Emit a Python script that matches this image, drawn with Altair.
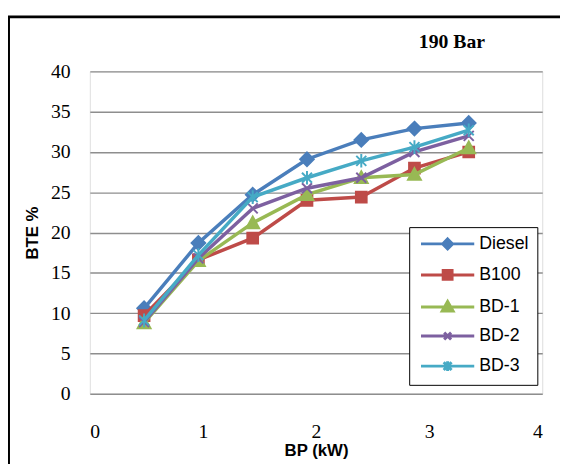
import altair as alt
import pandas as pd

# ---- data ----
bp = [0.48, 0.96, 1.44, 1.92, 2.40, 2.87, 3.35]
diesel = [10.6, 18.7, 24.7, 29.1, 31.5, 32.9, 33.6]
b100 = [9.7, 16.6, 19.3, 24.0, 24.4, 28.0, 30.0]
bd1 = [8.8, 16.5, 21.2, 24.7, 26.8, 27.2, 30.5]
bd2 = [8.9, 16.8, 23.0, 25.5, 26.8, 30.0, 32.0]
bd3 = [9.1, 17.2, 24.4, 26.8, 28.9, 30.6, 32.7]
series = ["Diesel", "B100", "BD-1", "BD-2", "BD-3"]
colors = ["#4A7EBB", "#BE4B48", "#98B954", "#7D60A0", "#46AAC5"]
x_ticks = [0, 1, 2, 3, 4]
y_ticks = [0, 5, 10, 15, 20, 25, 30, 35, 40]

values = [diesel, b100, bd1, bd2, bd3]
rows = []
for name, vals in zip(series, values):
    for x, y in zip(bp, vals):
        rows.append({"series": name, "bp": x, "bte": y})
df = pd.DataFrame(rows)

# marker shapes (unit box -1..1)
marker_paths = [
    "M0,-0.95L0.95,0L0,0.95L-0.95,0Z",
    "M-0.75,-0.75L0.75,-0.75L0.75,0.75L-0.75,0.75Z",
    "M0,-0.9L0.9,0.75L-0.9,0.75Z",
    "M-0.7,-0.7L0.7,0.7M-0.7,0.7L0.7,-0.7",
    "M-0.7,-0.7L0.7,0.7M-0.7,0.7L0.7,-0.7M0,-0.95L0,0.95",
]
# legend symbols: line + marker (1 unit = 5 px, line 54 px long)
legend_paths = [
    "M-1,0L9.8,0M4.4,-1L5.4,0L4.4,1L3.4,0Z",
    "M-1,0L9.8,0M3.5,-0.9L5.3,-0.9L5.3,0.9L3.5,0.9Z",
    "M-1,0L9.8,0M4.4,-1.1L5.5,0.8L3.3,0.8Z",
    "M-1,0L9.8,0M3.7,-0.7L5.1,0.7M3.7,0.7L5.1,-0.7",
    "M-1,0L9.8,0M3.6,-0.8L5.2,0.8M3.6,0.8L5.2,-0.8M4.4,-1L4.4,1",
]

cscale = alt.Scale(domain=series, range=colors)
xscale = alt.Scale(domain=[0, 4], nice=False)
yscale = alt.Scale(domain=[0, 40], nice=False)

xenc = alt.X("bp:Q", scale=xscale, axis=alt.Axis(
    values=x_ticks, grid=False, ticks=False, domain=False,
    labelFont="Liberation Serif", labelFontSize=20, labelColor="black",
    labelPadding=28, title="BP  (kW)", titleFont="Liberation Sans",
    titleFontSize=17, titleFontWeight="bold", titleColor="black",
    titlePadding=2))
yenc = alt.Y("bte:Q", scale=yscale, axis=alt.Axis(
    values=y_ticks, grid=True, gridColor="#8e8e8e", gridWidth=1.5,
    ticks=False, domain=False,
    labelFont="Liberation Serif", labelFontSize=20, labelColor="black",
    labelPadding=20, title="BTE %", titleFont="Liberation Sans",
    titleFontSize=17, titleFontWeight="bold", titleColor="black",
    titlePadding=9))

base = alt.Chart(df)
layers = []
frame = alt.Chart(alt.Data(values=[{"a": 1}])).mark_rect(
    fill=None, stroke="black", strokeWidth=2.6).encode(
    x=alt.value(-82.3), x2=alt.value(700), y=alt.value(-55.3), y2=alt.value(600))
layers.append(frame)

for i, name in enumerate(series):
    sub = base.transform_filter(alt.datum.series == name)
    line = sub.mark_line(strokeWidth=3.5, stroke=colors[i]).encode(
        x=xenc, y=yenc)
    pts = sub.mark_point(filled=False, shape=marker_paths[i], size=210,
                         strokeWidth=2, fill=colors[i], stroke=colors[i],
                         opacity=1).encode(x=xenc, y=yenc)
    layers += [line, pts]

leg = alt.Legend(title=None, orient="none", legendX=324, legendY=158,
                 fillColor="white", strokeColor="black", padding=8,
                 symbolSize=100, symbolStrokeWidth=3, symbolOpacity=1,
                 labelFont="Liberation Sans", labelFontSize=18,
                 labelColor="black", rowPadding=9.5, labelOffset=45)
legend_layer = base.transform_filter("datum.bp < 0").mark_point(
    filled=True, opacity=1).encode(
    x=xenc, y=yenc,
    fill=alt.Fill("series:N", scale=cscale, legend=leg),
    stroke=alt.Stroke("series:N", scale=cscale, legend=leg),
    shape=alt.Shape("series:N", scale=alt.Scale(domain=series, range=legend_paths), legend=leg))
layers.append(legend_layer)

chart = alt.layer(*layers).properties(
    width=459, height=327,
    autosize=alt.AutoSizeParams(type="none"),
    padding={"left": 83, "top": 61, "right": 18, "bottom": 68},
    title=alt.TitleParams("190 Bar", font="Liberation Serif", fontSize=20,
                          fontWeight="bold", anchor="end", frame="group",
                          dx=-58, offset=-37, color="black"),
).configure_view(stroke="#888888", strokeWidth=2).configure(background="white")

chart.save("out.html", embed_options={"renderer": "svg", "actions": False})
